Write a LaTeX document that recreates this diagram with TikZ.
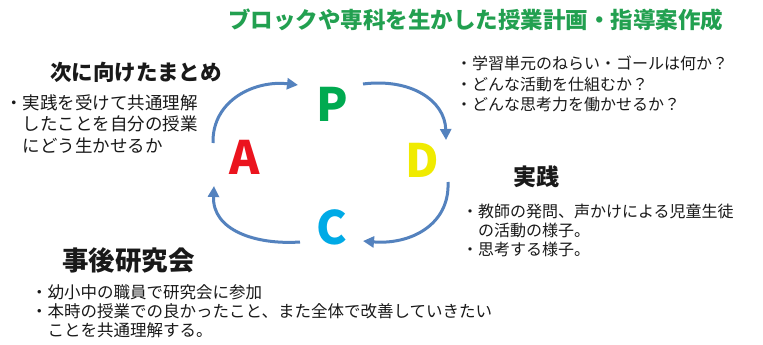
\documentclass[tikz,border=0pt]{standalone}
\usepackage{fontspec}
\newfontfamily\jp{Noto Sans CJK JP}
\usetikzlibrary{arrows.meta}
\definecolor{titlegreen}{RGB}{34,160,80}
\definecolor{pgreen}{RGB}{0,170,80}
\definecolor{ared}{RGB}{235,20,30}
\definecolor{dyellow}{RGB}{240,235,0}
\definecolor{ccyan}{RGB}{0,170,230}
\definecolor{arrowblue}{RGB}{84,130,190}
\definecolor{txt}{RGB}{25,25,25}
\tikzset{
  body/.style={anchor=west,inner sep=0pt,text=txt,font=\jp\fontsize{16.5}{21}\selectfont,align=left},
  head/.style={anchor=west,inner sep=0pt,text=txt},
  letter/.style={inner sep=0pt,font=\jp\bfseries\fontsize{46}{46}\selectfont},
  cyc/.style={draw=arrowblue,line width=3pt,-{Triangle[length=11pt,width=11pt]}}
}
\begin{document}
\begin{tikzpicture}[x=1pt,y=-1pt]
\useasboundingbox[fill=white] (0,0) rectangle (763,345);
% title
\node[anchor=west,inner sep=0pt,text=titlegreen,font=\jp\bfseries\fontsize{22.5}{24}\selectfont] (title) at (228,20) {ブロックや専科を生かした授業計画・指導案作成};
% letters
\node[letter,text=pgreen] (P) at (332,104) {P};
\node[letter,text=ared] (A) at (245,157) {A};
\node[letter,text=dyellow] (D) at (422,160) {D};
\node[letter,text=ccyan] (C) at (332,227) {C};
% cycle arrows
\coordinate (a1s) at (213,143);
\coordinate (a1e) at (298,85);
\coordinate (a2s) at (363,84);
\coordinate (a2e) at (446,140);
\coordinate (a3s) at (448,182);
\coordinate (a3e) at (363,241);
\coordinate (a4s) at (300,242);
\coordinate (a4e) at (214,186);
\draw[cyc] (a1s) .. controls (212,100) and (255,80) .. (a1e);
\draw[cyc] (a2s) .. controls (410,78) and (445,100) .. (a2e);
\draw[cyc] (a3s) .. controls (450,225) and (410,245) .. (a3e);
\draw[cyc] (a4s) .. controls (255,245) and (212,230) .. (a4e);
% left
\node[head,font=\jp\bfseries\fontsize{21.5}{24}\selectfont] (nextH) at (50,72) {次に向けたまとめ};
\node[body,font=\jp\fontsize{17.5}{21.5}\selectfont] (nextT) at (5,124) {・実践を受けて共通理解\\\hphantom{・}したことを自分の授業\\\hphantom{・}にどう生かせるか};
% right top
\node[body,font=\jp\fontsize{16}{20.5}\selectfont] (planT) at (456,84) {・学習単元のねらい・ゴールは何か？\\・どんな活動を仕組むか？\\・どんな思考力を働かせるか？};
% right middle
\node[head,font=\jp\bfseries\fontsize{23}{24}\selectfont] (doH) at (513,177) {実践};
\node[body,font=\jp\fontsize{16}{19}\selectfont] (doT) at (462,230) {・教師の発問、声かけによる児童生徒\\\hphantom{・}の活動の様子。\\・思考する様子。};
% bottom
\node[head,font=\jp\bfseries\fontsize{26.5}{28}\selectfont] (chkH) at (62,260) {事後研究会};
\node[body,font=\jp\fontsize{16.5}{19}\selectfont] (chkT) at (31,311) {・幼小中の職員で研究会に参加\\・本時の授業での良かったこと、また全体で改善していきたい\\\hphantom{・}ことを共通理解する。};
\end{tikzpicture}
\end{document}
